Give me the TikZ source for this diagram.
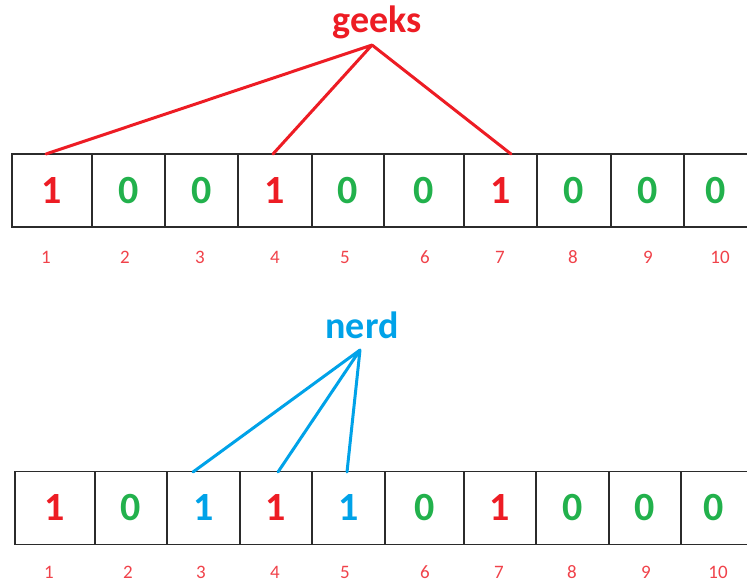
\documentclass[tikz,border=0pt]{standalone}
\usepackage{fontspec}
\setmainfont{Carlito}
\definecolor{pred}{HTML}{ED1C24}
\definecolor{pgreen}{HTML}{22B14C}
\definecolor{pblue}{HTML}{00A2E8}
\definecolor{plabel}{HTML}{F0424A}
\definecolor{pgrid}{HTML}{2B2B2B}
\tikzset{
  cell/.style={draw=pgrid, line width=1.6pt, inner sep=0pt, outer sep=0pt, minimum height=73pt, font=\fontsize{40}{40}\selectfont\bfseries},
  opencell/.style={inner sep=0pt, outer sep=0pt, minimum height=73pt, font=\fontsize{40}{40}\selectfont\bfseries},
  border/.style={draw=pgrid, line width=1.6pt},
  idx/.style={text=plabel, inner sep=0pt, font=\fontsize{19}{19}\selectfont},
  word/.style={inner sep=0pt, font=\fontsize{38}{38}\selectfont\bfseries},
  link/.style={line width=3pt, line cap=round},
}
\begin{document}
\begin{tikzpicture}[x=1pt,y=-1pt]
\useasboundingbox (0,0) rectangle (747,583);
% top array
\foreach \i/\l/\r/\d/\c in {1/12/92/1/pred,2/92/165/0/pgreen,3/165/238/0/pgreen,4/238/312/1/pred,5/312/384/0/pgreen,6/384/464/0/pgreen,7/464/537/1/pred,8/537/611/0/pgreen,9/611/684/0/pgreen}{
  \node[cell, minimum width={\r-\l}, text=\c] (t\i) at ({(\l+\r)/2},190.5) {\d};
}
\node[opencell, minimum width=64pt, text=pgreen] (t10) at (716,190.5) {0};
\draw[border] (t9.north east) -- (t9.north east -| t10.east) (t9.south east) -- (t9.south east -| t10.east);
% bottom array
\foreach \i/\l/\r/\d/\c in {1/15/95/1/pred,2/95/167/0/pgreen,3/167/240/1/pblue,4/240/312/1/pred,5/312/385/1/pblue,6/385/464/0/pgreen,7/464/536/1/pred,8/536/609/0/pgreen,9/609/681/0/pgreen}{
  \node[cell, minimum width={\r-\l}, text=\c] (b\i) at ({(\l+\r)/2},508) {\d};
}
\node[opencell, minimum width=66pt, text=pgreen] (b10) at (714,508) {0};
\draw[border] (b9.north east) -- (b9.north east -| b10.east) (b9.south east) -- (b9.south east -| b10.east);
% index labels
\foreach \i/\x in {1/46,2/125,3/200,4/275,5/345,6/425,7/500,8/573,9/648,10/720}{
  \node[idx] (ti\i) at (\x,257) {\i};
}
\foreach \i/\x in {1/49,2/128,3/201,4/275,5/345,6/425,7/499,8/572,9/646,10/718}{
  \node[idx] (bi\i) at (\x,572) {\i};
}
% words
\node[word, text=pred] (geeks) at (377,22) {geeks};
\coordinate (gk) at (372,45);
\coordinate (g1) at (46,154);
\coordinate (g4) at (273,154);
\coordinate (g7) at (511,154);
\draw[link, pred] (gk) -- (g1) (gk) -- (g4) (gk) -- (g7);
\node[word, text=pblue] (nerd) at (362,325) {nerd};
\coordinate (nd) at (360,350);
\coordinate (n3) at (193,472);
\coordinate (n4) at (278,472);
\coordinate (n5) at (347,472);
\draw[link, pblue] (nd) -- (n3) (nd) -- (n4) (nd) -- (n5);
\end{tikzpicture}
\end{document}
